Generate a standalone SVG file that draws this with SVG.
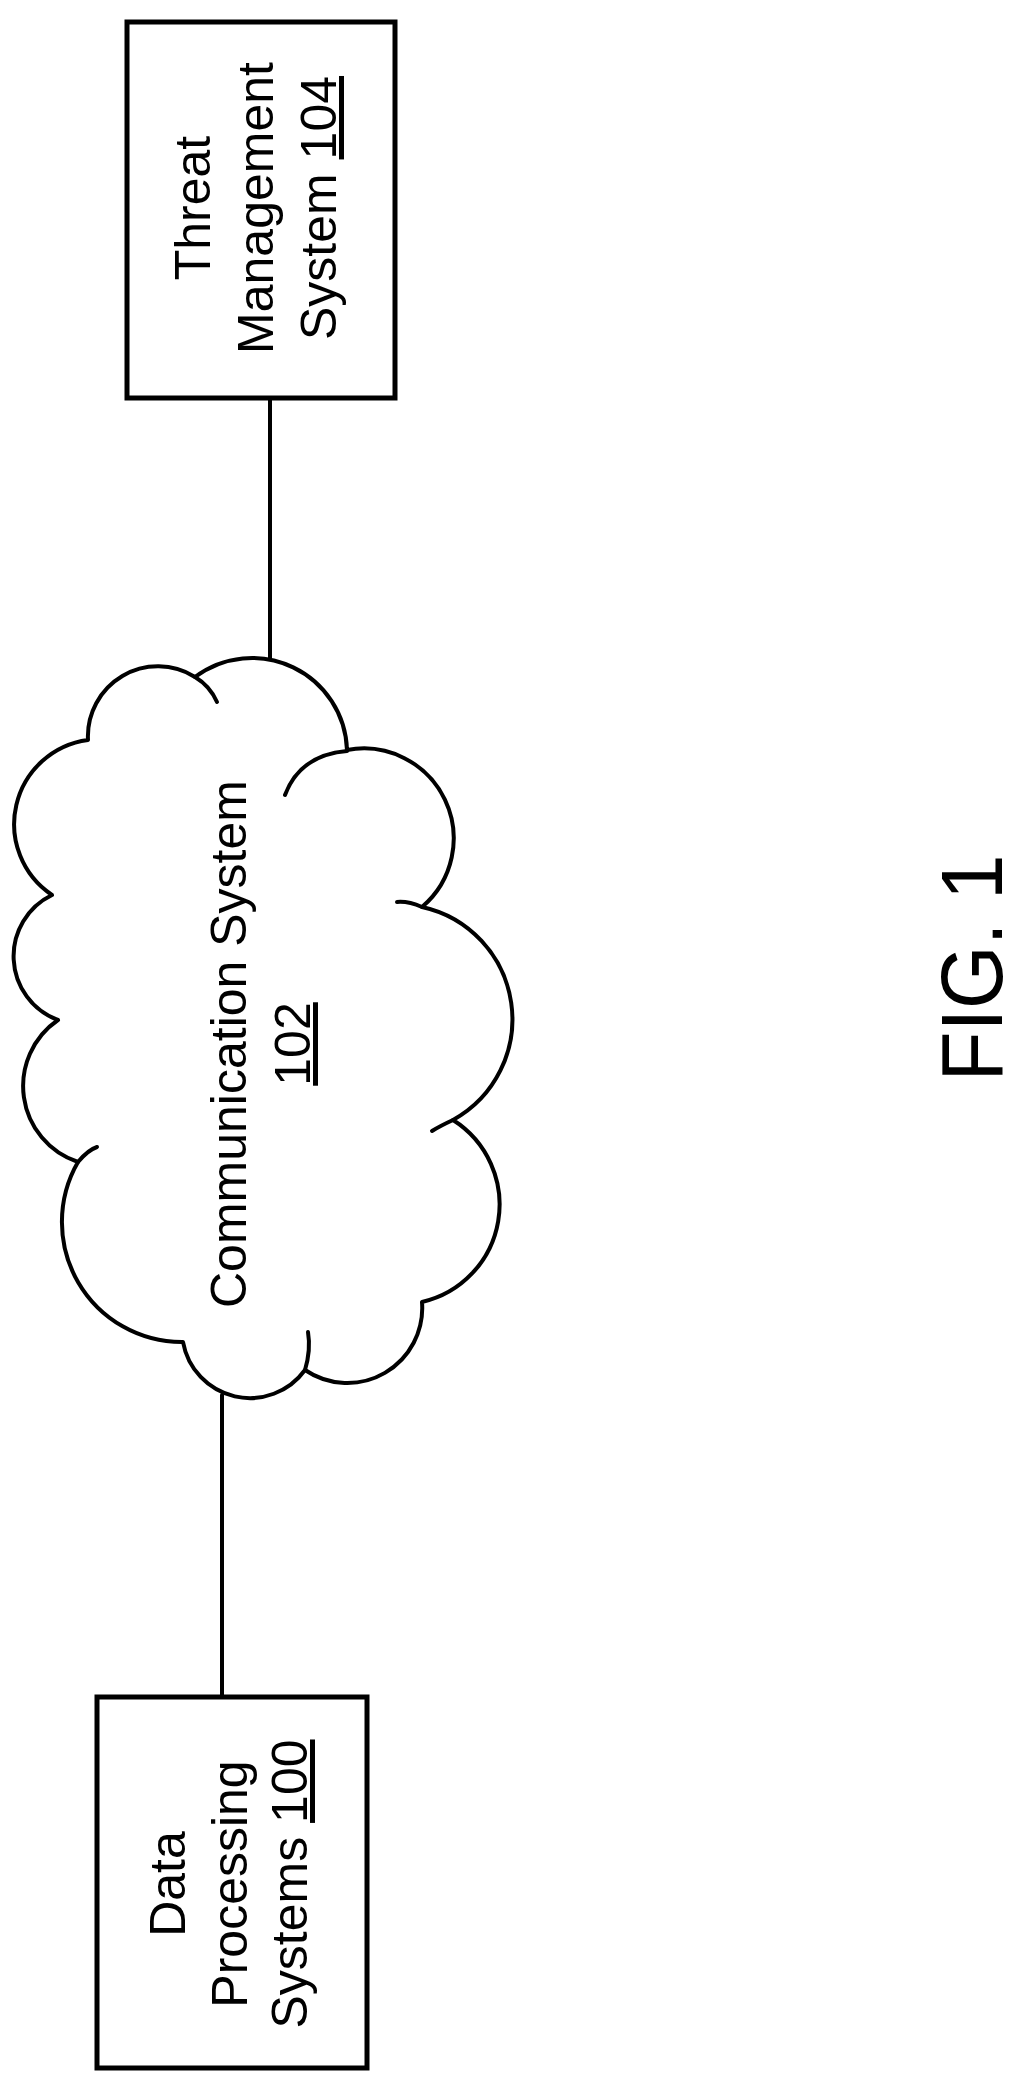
<svg xmlns="http://www.w3.org/2000/svg" width="1023" height="2093" viewBox="0 0 1023 2093">
<style>
.s{fill:none;stroke:#000;stroke-width:4;stroke-linecap:round;stroke-linejoin:round}
.b{fill:#fff;stroke:#000;stroke-width:5}
.t{font-family:"Liberation Sans",Arial,sans-serif;font-size:50px;fill:#000;text-anchor:middle}
.u{stroke:#000;stroke-width:3}
</style>
<rect width="1023" height="2093" fill="#fff"/>
<g id="connectors">
<line class="s" x1="270" y1="398" x2="270" y2="665"/>
<line class="s" x1="222" y1="1395" x2="222" y2="1697"/>
</g>
<g id="threat">
<rect class="b" x="127" y="22" width="268" height="376"/>
<g transform="translate(0,208) rotate(-90)">
<text class="t" x="0" y="210">Threat</text>
<text class="t" x="0" y="273">Management</text>
<text class="t" x="0" y="336">System <tspan text-decoration="underline">104</tspan></text>
</g>
</g>
<g id="cloud">
<path class="s" fill="#fff" d="M195,677 A95,95 0 0 1 347,750 A90,90 0 0 1 422,907 A115,115 0 0 1 453,1120 A100,100 0 0 1 422,1302 A75,75 0 0 1 305,1370 A68,68 0 0 1 183,1342 A120,120 0 0 1 78,1162 A80,80 0 0 1 58,1020 A68,68 0 0 1 52,895 A85,85 0 0 1 88,740 A70,70 0 0 1 195,677 Z" style="fill:#fff"/>
<path class="s" d="M195,677 Q210,686 217,702"/>
<path class="s" d="M347,751 Q300,755 285,795"/>
<path class="s" d="M422,907 Q408,901 397,902"/>
<path class="s" d="M453,1120 Q440,1126 432,1131"/>
<path class="s" d="M305,1370 Q311,1350 308,1332"/>
<path class="s" d="M78,1162 Q88,1150 97,1147"/>
<g transform="translate(0,1044) rotate(-90)">
<text class="t" x="0" y="246">Communication System</text>
<text class="t" x="0" y="310" text-decoration="underline">102</text>
</g>
</g>
<g id="dps">
<rect class="b" x="97" y="1697" width="270" height="371"/>
<g transform="translate(0,1884) rotate(-90)">
<text class="t" x="0" y="185">Data</text>
<text class="t" x="0" y="247">Processing</text>
<text class="t" x="0" y="307">Systems <tspan text-decoration="underline">100</tspan></text>
</g>
</g>
<g id="fig">
<text transform="translate(1002,968) rotate(-90)" x="0" y="0" font-family="Liberation Sans, Arial, sans-serif" font-size="88" text-anchor="middle" textLength="227" lengthAdjust="spacingAndGlyphs">FIG. 1</text>
</g>
</svg>
